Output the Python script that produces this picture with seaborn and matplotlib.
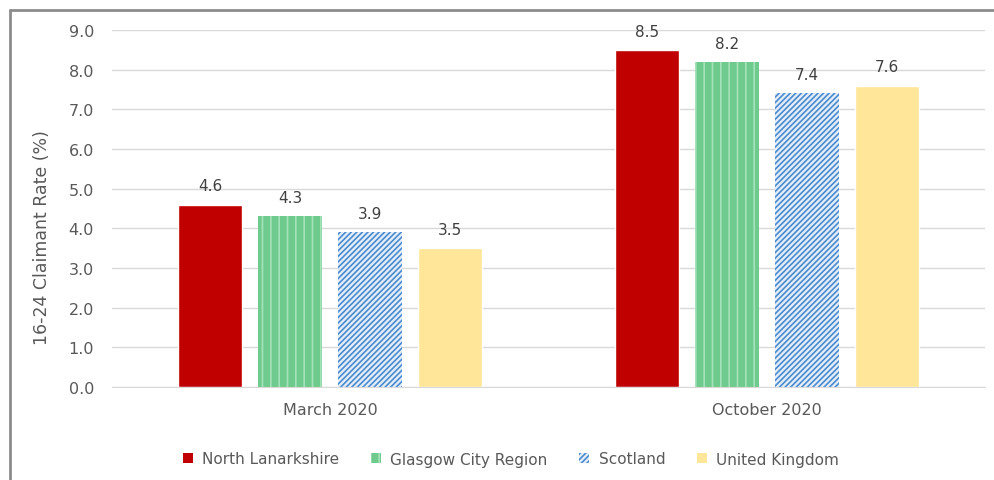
#!/usr/bin/env python3
import matplotlib
matplotlib.use('Agg')
import matplotlib.pyplot as plt
import matplotlib.patches as patches
from matplotlib.lines import Line2D
import pandas as pd
import seaborn as sns

# chart data
periods = ['March 2020', 'October 2020']
areas = ['North Lanarkshire', 'Glasgow City Region', 'Scotland', 'United Kingdom']
north_lanarkshire = [4.6, 8.5]
glasgow_city_region = [4.3, 8.2]
scotland = [3.9, 7.4]
united_kingdom = [3.5, 7.6]

rates = [north_lanarkshire, glasgow_city_region, scotland, united_kingdom]
rows = []
for area, vals in zip(areas, rates):
    for p, v in zip(periods, vals):
        rows.append(dict(period=p, area=area, rate=v))
df = pd.DataFrame(rows)

faces = ['#C00000', '#6FCB8D', '#E3EEF9', '#FFE699']
hatches = [None, '||', '//////', None]
hatch_cols = [None, '#A6E2B9', '#4A8AD0', None]

sns.set_style('white')
plt.rcParams['font.family'] = ['DejaVu Sans']
plt.rcParams['hatch.linewidth'] = 1.2

fig = plt.figure(figsize=(9.95, 4.81), dpi=100)
ax = fig.add_axes([112 / 995, 1 - 388 / 481, (985 - 112) / 995, (388 - 31) / 481])

sns.barplot(data=df, x='period', y='rate', hue='area', order=periods, hue_order=areas,
            palette=faces, width=0.734, gap=0.2, saturation=1, legend=False, ax=ax)

for i, cont in enumerate(ax.containers):
    for bar in cont:
        bar.set_facecolor(faces[i])
        if hatches[i]:
            bar.set_hatch(hatches[i])
            bar.set_edgecolor(hatch_cols[i])
            bar.set_linewidth(0)
    ax.bar_label(cont, fmt='%.1f', padding=8, fontsize=11, color='#404040')

ax.set_ylim(0, 9)
ax.set_xlim(-0.5, 1.5)
ax.set_yticks([i for i in range(10)])
ax.set_yticklabels(['%.1f' % i for i in range(10)])
ax.yaxis.grid(True, color='#D9D9D9', lw=1)
ax.set_axisbelow(True)
for s in ['top', 'right', 'left']:
    ax.spines[s].set_visible(False)
ax.spines['bottom'].set_color('#D9D9D9')
ax.tick_params(axis='both', length=0, labelsize=11.5, colors='#595959')
ax.tick_params(axis='y', pad=13)
ax.tick_params(axis='x', pad=11)
ax.set_xlabel('')
ax.set_ylabel('')
fig.text(42 / 995, 1 - 238 / 481, '16-24 Claimant Rate (%)', rotation=90, ha='center', va='center',
         fontsize=12.5, color='#595959')

handles = []
for i, a in enumerate(areas):
    handles.append(patches.Patch(facecolor=faces[i], hatch=hatches[i],
                                 edgecolor=hatch_cols[i] if hatch_cols[i] else faces[i], lw=0, label=a))
fig.legend(handles=handles, loc='center', bbox_to_anchor=(511 / 995, 1 - 460 / 481), ncol=4,
           frameon=False, fontsize=11, labelcolor='#595959', handlelength=0.65, handleheight=0.65,
           handletextpad=0.6, columnspacing=2.1)

# outer frame
fig.add_artist(Line2D([10.5 / 995, 10.5 / 995], [0, 1 - 11 / 481], transform=fig.transFigure,
                      color='#8C8C8C', lw=2))
fig.add_artist(Line2D([10 / 995, 1], [1 - 11 / 481, 1 - 11 / 481], transform=fig.transFigure,
                      color='#8C8C8C', lw=2))

plt.savefig('out.png', dpi=100)
